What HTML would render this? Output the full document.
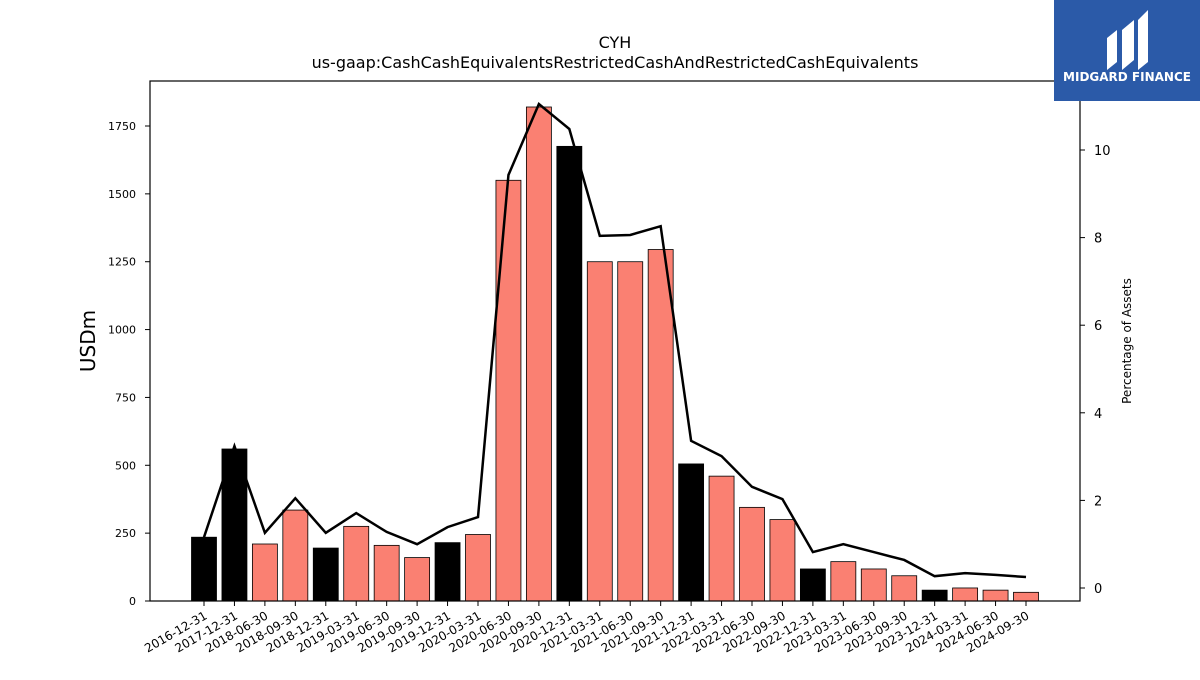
<!DOCTYPE html>
<html><head><meta charset="utf-8"><style>
body{margin:0;background:#fff;font-family:"Liberation Sans","DejaVu Sans",sans-serif}
svg text{font-family:"DejaVu Sans","Liberation Sans",sans-serif}
</style></head><body>
<svg id="chart" width="1200" height="675" xmlns="http://www.w3.org/2000/svg">
<rect width="1200" height="675" fill="#fff"/>
<text x="615" y="48" font-size="16" text-anchor="middle">CYH</text>
<text x="615" y="68" font-size="16" text-anchor="middle">us-gaap:CashCashEquivalentsRestrictedCashAndRestrictedCashEquivalents</text>
<text transform="translate(95,341) rotate(-90)" font-size="20" text-anchor="middle">USDm</text>
<text transform="translate(1131,341) rotate(-90)" font-size="12" text-anchor="middle">Percentage of Assets</text>
<g id="bars"></g><g id="line"></g><g id="axes"></g>
<g>
<rect x="1054" y="0" width="146" height="101" fill="#2b5aa8"/>
<path d="M1107 70 V38 L1117 30 V62 Z M1122 70 V30 L1134 20 V60 Z M1138 70 V20 L1148 10 V62 Z" fill="#fff"/>
<text x="1127" y="81" font-size="12" font-weight="bold" fill="#fff" text-anchor="middle">MIDGARD FINANCE</text>
</g>
</svg>
<script>
const categories=["2016-12-31","2017-12-31","2018-06-30","2018-09-30","2018-12-31","2019-03-31","2019-06-30","2019-09-30","2019-12-31","2020-03-31","2020-06-30","2020-09-30","2020-12-31","2021-03-31","2021-06-30","2021-09-30","2021-12-31","2022-03-31","2022-06-30","2022-09-30","2022-12-31","2023-03-31","2023-06-30","2023-09-30","2023-12-31","2024-03-31","2024-06-30","2024-09-30"];
const cashValues=[235,560,210,335,195,275,205,160,215,245,1550,1820,1675,1250,1250,1295,505,460,345,300,118,145,118,93,40,48,40,32];
const pctAssets=[1.16,3.24,1.26,2.05,1.26,1.71,1.28,1.0,1.39,1.62,9.43,11.05,10.48,8.04,8.06,8.26,3.36,3.01,2.31,2.03,0.82,1.0,0.82,0.64,0.27,0.34,0.30,0.25];
const leftTicks=[0,250,500,750,1000,1250,1500,1750];
const rightTicks=[0,2,4,6,8,10];
const NS="http://www.w3.org/2000/svg";
const X0=150,X1=1080,Y0=81,Y1=601;
const xPos=i=>204+i*(1026-204)/(categories.length-1);
const yL=v=>601-v*(475/1750);
const yR=v=>588-v*43.8;
function mk(tag,attrs,parent){const e=document.createElementNS(NS,tag);for(const k in attrs)e.setAttribute(k,attrs[k]);parent.appendChild(e);return e;}
const bars=document.getElementById('bars'),lineG=document.getElementById('line'),axes=document.getElementById('axes');
categories.forEach((c,i)=>{
 const yr=c.endsWith('12-31');
 const r=mk('rect',{x:xPos(i)-12.5,y:yL(cashValues[i]),width:25,height:yL(0)-yL(cashValues[i]),fill:yr?'#000':'#fa8072',stroke:'#000','stroke-width':0.8},bars);
 
 
 const t=mk('text',{x:xPos(i)+4,y:618,'font-size':12,'text-anchor':'end',transform:`rotate(-30 ${xPos(i)+4} 618)`},axes);
 t.textContent=c;
 
 
 mk('line',{x1:xPos(i),x2:xPos(i),y1:601,y2:606,stroke:'#000'},axes);
});
const pl=mk('polyline',{points:pctAssets.map((v,i)=>xPos(i)+','+yR(v)).join(' '),fill:'none',stroke:'#000','stroke-width':2.5},lineG);


const frame=mk('rect',{x:X0,y:Y0,width:X1-X0,height:Y1-Y0,fill:'none',stroke:'#000','stroke-width':1.2},axes);


leftTicks.forEach(v=>{
 mk('line',{x1:145,x2:150,y1:yL(v),y2:yL(v),stroke:'#000'},axes);
 const t=mk('text',{x:136,y:yL(v)+4,'font-size':11,'text-anchor':'end'},axes);t.textContent=v;
 
 
});
rightTicks.forEach(v=>{
 mk('line',{x1:1080,x2:1085,y1:yR(v),y2:yR(v),stroke:'#000'},axes);
 const t=mk('text',{x:1094,y:yR(v)+5,'font-size':13},axes);t.textContent=v;
 
 
});
</script>
</body></html>
